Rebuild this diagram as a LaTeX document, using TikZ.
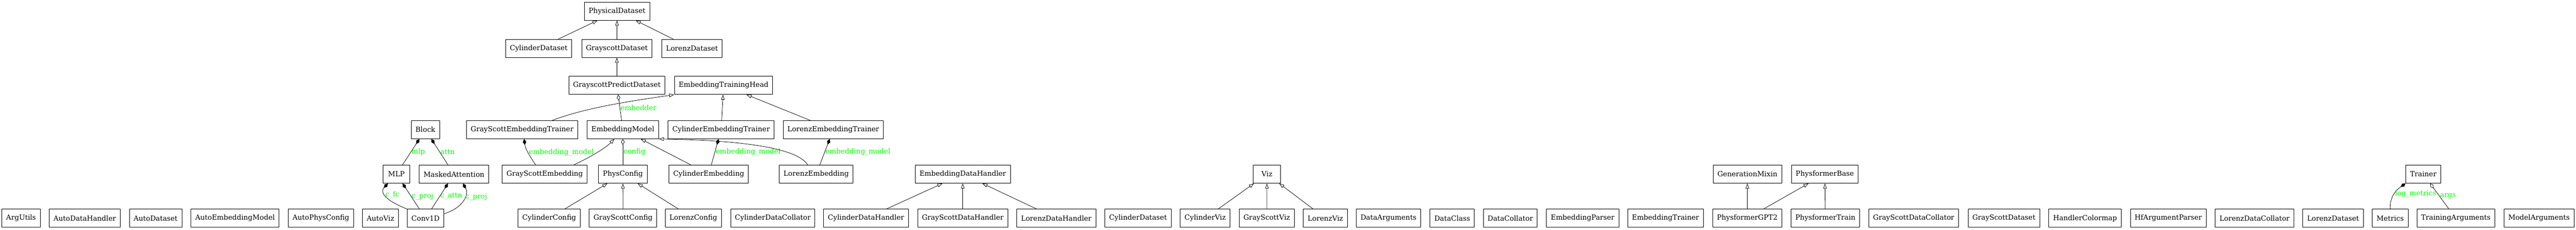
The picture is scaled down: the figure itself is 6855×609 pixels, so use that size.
\documentclass[tikz,border=0pt]{standalone}
\usepackage{fontspec}
\setmainfont{DejaVu Serif}
\usetikzlibrary{arrows.meta}

\begin{document}
\begin{tikzpicture}[x=0.75pt, y=-0.75pt, font=\fontsize{14}{17}\selectfont,
    cls/.style={draw, line width=0.9pt, minimum height=36pt, minimum width=54pt, inner xsep=8.5pt, inner ysep=0pt},
    inh/.style={line width=0.8pt, -{Triangle[open, length=10pt, width=7pt]}},
    agg/.style={line width=0.8pt, -{Diamond[open, length=12pt, width=7pt]}},
    comp/.style={line width=0.8pt, -{Diamond[length=12pt, width=7pt]}},
    lbl/.style={anchor=west, inner sep=1pt, text=green}]

    \useasboundingbox (0,0) rectangle (6855,609);

    \node [cls] (physds) at (1642,29.7) {PhysicalDataset};

    \node [cls] (cylphys) at (1433.5,128.5) {CylinderDataset};
    \node [cls] (gsphys) at (1641.5,128.5) {GrayscottDataset};
    \node [cls] (lorphys) at (1841.5,128.5) {LorenzDataset};

    \node [cls] (gspd) at (1641.5,226.5) {GrayscottPredictDataset};
    \node [cls] (eth) at (1925.5,226.5) {EmbeddingTrainingHead};

    \node [cls] (block) at (1132,344) {Block};
    \node [cls] (gset) at (1389.5,344) {GrayScottEmbeddingTrainer};
    \node [cls] (embmodel) at (1657.5,344) {EmbeddingModel};
    \node [cls] (cet) at (1919,344) {CylinderEmbeddingTrainer};
    \node [cls] (lorset) at (2217.5,344) {LorenzEmbeddingTrainer};

    \node [cls] (mlp) at (1055,462) {MLP};
    \node [cls] (masked) at (1208,462) {MaskedAttention};
    \node [cls] (gsemb) at (1449.5,462) {GrayScottEmbedding};
    \node [cls] (physcfg) at (1657.5,462) {PhysConfig};
    \node [cls] (cylemb) at (1886,462) {CylinderEmbedding};
    \node [cls] (loremb) at (2172,462) {LorenzEmbedding};
    \node [cls] (embdh) at (2562,462) {EmbeddingDataHandler};
    \node [cls] (viz) at (3371.5,462) {Viz};
    \node [cls] (genmixin) at (4650,462) {GenerationMixin};
    \node [cls] (pfbase) at (4856,462) {PhysformerBase};
    \node [cls] (trainer) at (6448.5,462) {Trainer};

    \node [cls] (argutils) at (56,579) {ArgUtils};
    \node [cls] (autodh) at (225.5,579) {AutoDataHandler};
    \node [cls] (autods) at (414,579) {AutoDataset};
    \node [cls] (autoem) at (625.5,579) {AutoEmbeddingModel};
    \node [cls] (autopc) at (854,579) {AutoPhysConfig};
    \node [cls] (autoviz) at (1012.5,579) {AutoViz};
    \node [cls] (conv) at (1132.5,579) {Conv1D};
    \node [cls] (cylcfg) at (1461.5,579) {CylinderConfig};
    \node [cls] (gscfg) at (1658,579) {GrayScottConfig};
    \node [cls] (lorcfg) at (1845,579) {LorenzConfig};
    \node [cls] (cyldc) at (2056.5,579) {CylinderDataCollator};
    \node [cls] (cyldh) at (2304.5,579) {CylinderDataHandler};
    \node [cls] (gsdh) at (2562,579) {GrayScottDataHandler};
    \node [cls] (lordh) at (2811,579) {LorenzDataHandler};
    \node [cls] (cylds) at (3028.5,579) {CylinderDataset};
    \node [cls] (cylviz) at (3207,579) {CylinderViz};
    \node [cls] (gsviz) at (3371,579) {GrayScottViz};
    \node [cls] (lorviz) at (3527,579) {LorenzViz};
    \node [cls] (dataargs) at (3695,579) {DataArguments};
    \node [cls] (dataclass) at (3864.5,579) {DataClass};
    \node [cls] (datacoll) at (4019,579) {DataCollator};
    \node [cls] (embparser) at (4211.5,579) {EmbeddingParser};
    \node [cls] (embtrainer) at (4432,579) {EmbeddingTrainer};
    \node [cls] (gpt) at (4649.5,579) {PhysformerGPT2};
    \node [cls] (pftrain) at (4857.5,579) {PhysformerTrain};
    \node [cls] (gsdc) at (5092.5,579) {GrayScottDataCollator};
    \node [cls] (gsds) at (5332.5,579) {GrayScottDataset};
    \node [cls] (colormap) at (5548.5,579) {HandlerColormap};
    \node [cls] (hfparser) at (5770,579) {HfArgumentParser};
    \node [cls] (lordc) at (5999.5,579) {LorenzDataCollator};
    \node [cls] (lords) at (6208.5,579) {LorenzDataset};
    \node [cls] (metrics) at (6360.5,579) {Metrics};
    \node [cls] (trainargs) at (6535,579) {TrainingArguments};
    \node [cls] (modelargs) at (6756.5,579) {ModelArguments};

    \draw [inh] (cylphys) -- (physds);
    \draw [inh] (gsphys) -- (physds);
    \draw [inh] (lorphys) -- (physds);
    \draw [inh] (gspd) -- (gsphys);

    \draw [inh] ([xshift=60pt]gset.north) .. controls (1560,285) and (1680,268) .. (eth.south west);
    \draw [inh] (cet) -- (eth);
    \draw [inh] (lorset) -- (eth);
    \draw [agg] (embmodel) -- node [lbl] {embedder} (gspd);

    \draw [comp] ([xshift=-18pt]gsemb.north) .. controls (1410,415) and (1398,395) .. node [lbl] {embedding\_model} ([xshift=4pt]gset.south);
    \draw [inh] ([xshift=58pt]gsemb.north) .. controls (1575,415) and (1612,392) .. ([xshift=-17pt]embmodel.south);
    \draw [agg] (physcfg) -- node [lbl] {config} (embmodel);
    \draw [inh] (cylemb) -- (embmodel);
    \draw [comp] (cylemb) -- node [lbl] {embedding\_model} (cet);
    \draw [inh] ([xshift=-17pt]loremb.north) .. controls (2120,390) and (1960,372) .. (embmodel.south east);
    \draw [comp] (loremb) -- node [lbl] {embedding\_model} (lorset);

    \draw [comp] (mlp) -- node [lbl] {mlp} (block);
    \draw [comp] (masked) -- node [lbl] {attn} (block);
    \draw [comp] (conv.north west) .. controls (1010,525) and (1015,505) .. node [lbl] {c\_fc} ([xshift=-17pt]mlp.south);
    \draw [comp] (conv) -- node [lbl] {c\_proj} (mlp);
    \draw [comp] (conv) -- node [lbl] {c\_attn} (masked);
    \draw [comp] ([yshift=9pt]conv.east) .. controls (1235,550) and (1248,515) .. node [lbl, pos=0.6] {c\_proj} ([xshift=18pt]masked.south);

    \draw [inh] (cylcfg) -- (physcfg);
    \draw [inh] (gscfg) -- (physcfg);
    \draw [inh] (lorcfg) -- (physcfg);

    \draw [inh] (cyldh) -- (embdh);
    \draw [inh] (gsdh) -- (embdh);
    \draw [inh] (lordh) -- (embdh);

    \draw [inh] (cylviz) -- (viz);
    \draw [inh] (gsviz) -- (viz);
    \draw [inh] (lorviz) -- (viz);

    \draw [inh] (gpt) -- (genmixin);
    \draw [inh] (gpt) -- (pfbase);
    \draw [inh] (pftrain) -- (pfbase);

    \draw [comp] (metrics.north) .. controls (6359,520) and (6378,503) .. node [lbl] {log\_metrics} (trainer.south west);
    \draw [agg] (trainargs) -- node [lbl] {args} (trainer);

\end{tikzpicture}
\end{document}
